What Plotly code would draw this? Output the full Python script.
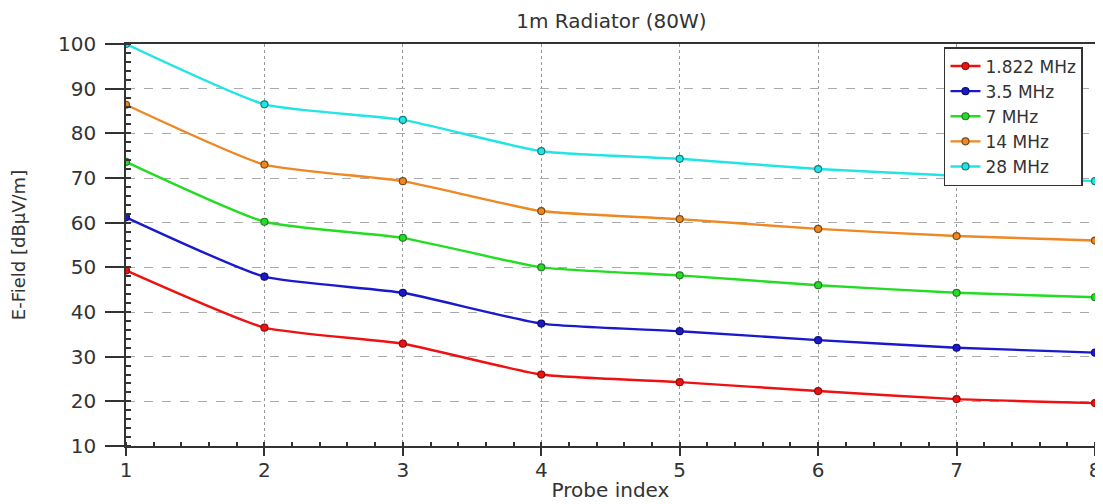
import plotly.graph_objects as go

probe_index = [1, 2, 3, 4, 5, 6, 7, 8]
series_names = ["1.822 MHz", "3.5 MHz", "7 MHz", "14 MHz", "28 MHz"]
e_1822 = [49.3, 36.5, 32.9, 26.0, 24.3, 22.3, 20.5, 19.6]
e_35 = [61.2, 47.9, 44.3, 37.4, 35.7, 33.7, 32.0, 30.9]
e_7 = [73.6, 60.2, 56.6, 50.0, 48.2, 46.0, 44.3, 43.3]
e_14 = [86.4, 73.0, 69.3, 62.6, 60.8, 58.6, 57.0, 56.0]
e_28 = [100.0, 86.5, 83.0, 76.0, 74.3, 72.0, 70.5, 69.3]
y_ticks = [10, 20, 30, 40, 50, 60, 70, 80, 90, 100]

all_series = [e_1822, e_35, e_7, e_14, e_28]
line_colors = ["#ee1111", "#1a1acc", "#22dd22", "#ee8822", "#22e4e4"]
edge_colors = ["#8a1010", "#10106a", "#2a7a2a", "#7a4a1a", "#1a7a7a"]

fig = go.Figure()
for name, vals, lc, ec in zip(series_names, all_series, line_colors, edge_colors):
    fig.add_trace(go.Scatter(
        x=probe_index, y=vals, name=name, mode="lines+markers",
        line=dict(color=lc, width=2.4, shape="spline", smoothing=0.5),
        marker=dict(symbol="circle", size=7, color=lc, line=dict(color=ec, width=1.2)),
    ))

font_family = "DejaVu Sans, Verdana, sans-serif"
# page has an 8px body margin, so the figure is sized 1095x496
fig.update_layout(
    width=1095, height=496,
    margin=dict(l=118, r=8, t=36, b=58, autoexpand=False),
    paper_bgcolor="white", plot_bgcolor="white",
    font=dict(family=font_family, color="#333333", size=18),
    title=dict(text="1m Radiator (80W)", x=0.551, xanchor="center", y=0.974, yanchor="middle",
               font=dict(size=20, color="#333333")),
    showlegend=True,
    legend=dict(x=0.9876, y=0.9925, xanchor="right", yanchor="top",
                bgcolor="white", bordercolor="#333333", borderwidth=1.5,
                font=dict(size=17, color="#333333"), tracegroupgap=0, itemwidth=30),
)
fig.update_xaxes(
    range=[1, 8], tickvals=probe_index, ticks="outside", ticklen=8, tickwidth=1.5,
    tickcolor="#333333", showline=True, linecolor="#333333", linewidth=1.5, mirror=True,
    showgrid=True, gridcolor="#999999", griddash="dot", gridwidth=1,
    minor=dict(ticks="inside", dtick=0.2, ticklen=4, tickcolor="#333333", showgrid=False),
    title=dict(text="Probe index", font=dict(size=20), standoff=2),
    tickfont=dict(size=20), ticklabelstandoff=-3, zeroline=False, automargin=False,
)
fig.update_yaxes(
    range=[10, 100], tickvals=y_ticks, ticks="outside", ticklen=19, tickwidth=1.5,
    tickcolor="#333333", showline=True, linecolor="#333333", linewidth=1.5, mirror=True,
    showgrid=True, gridcolor="#aaaaaa", griddash="dash", gridwidth=1,
    minor=dict(ticks="inside", dtick=2, ticklen=5, tickcolor="#333333", showgrid=False),
    title=dict(text="E-Field [dBµV/m]", font=dict(size=18), standoff=30),
    tickfont=dict(size=20), ticklabelstandoff=5, zeroline=False, automargin=False,
)

fig.write_html("out.html")
